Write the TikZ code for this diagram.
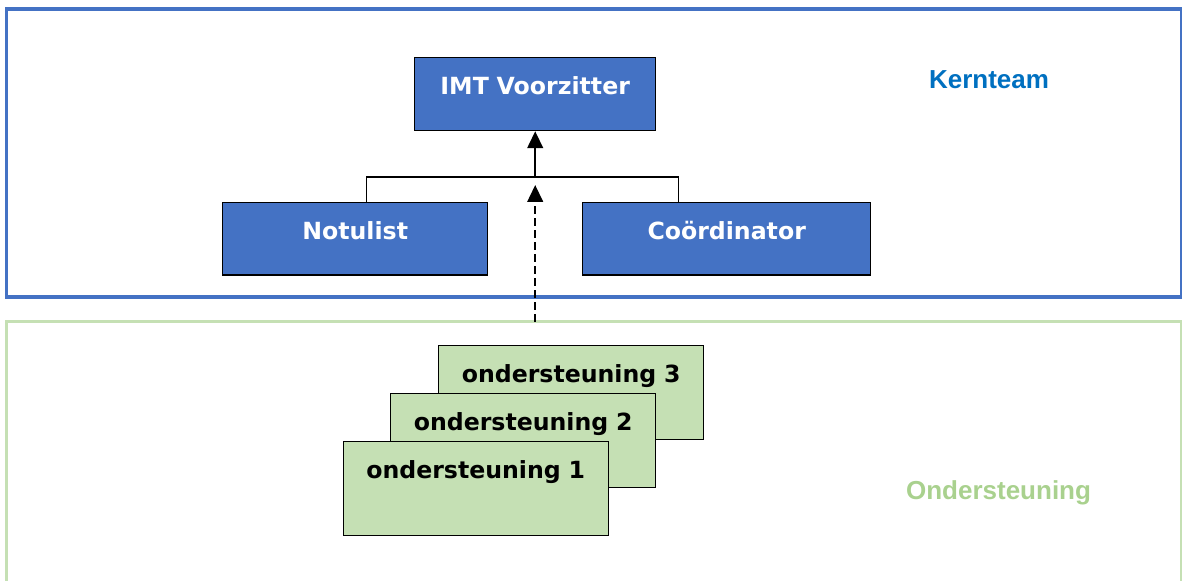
\documentclass[tikz,border=0pt]{standalone}
\usepackage{fontspec}
\usepackage{tikz}
\usetikzlibrary{arrows.meta,calc}
\newfontfamily\boxfont{DejaVu Sans}
\newfontfamily\tagfont{Liberation Sans}
\definecolor{kernblue}{HTML}{4472C4}
\definecolor{kerntext}{HTML}{0070C0}
\definecolor{ondgreen}{HTML}{C5E0B4}
\definecolor{ondtext}{HTML}{A9D18E}
\def\BoxWidth{265}
\def\UnitLen{0.025cm}

\begin{document}
\begin{tikzpicture}[x=\UnitLen,y=-\UnitLen,
		rolebox/.style={draw=black,line width=1pt,inner sep=0pt,anchor=north west,
			align=center,font=\boxfont\bfseries\fontsize{16.8}{20}\selectfont,
			text height=0.93cm},
		kernbox/.style={rolebox,fill=kernblue,text=white,text depth=0.89cm},
		ondbox/.style={rolebox,fill=ondgreen,text=black,text depth=1.42cm,text width=\BoxWidth*\UnitLen},
		teamtag/.style={anchor=base,font=\tagfont\bfseries\fontsize{18.5}{22}\selectfont},
		bracket/.style={draw=black,line width=0.9pt},
		uparrow/.style={draw=black,line width=1.8pt,-{Triangle[length=12pt,width=11pt]}}]
	\useasboundingbox (0,0) rectangle (1182,580);
	% frames
	\draw[kernblue,line width=2.4pt] (6.5,9) rectangle (1181.5,297);
	\draw[ondgreen,line width=2.4pt] (6.5,321.5) rectangle (1181.5,620);
	\node[teamtag,text=kerntext] (kern) at (989,88) {Kernteam};
	\node[teamtag,text=ondtext] (ond) at (998.5,499) {Ondersteuning};
	% kernteam
	\node[kernbox,text width=241*\UnitLen] (imt) at (414,57) {IMT Voorzitter};
	\node[kernbox,text width=265*\UnitLen] (notu) at (222,201.5) {Notulist};
	\node[kernbox,text width=288*\UnitLen] (coord) at (582,201.5) {Coördinator};
	% ondersteuning
	\node[ondbox] (ond3) at (438,345) {ondersteuning 3};
	\node[ondbox] (ond2) at (390,393) {ondersteuning 2};
	\node[ondbox] (ond1) at (342.5,441) {ondersteuning 1};
	% connectors
	\coordinate (split) at (imt.south |- 0,177);
	\coordinate (dashStart) at (imt.south |- 0,321.5);
	\coordinate (dashEnd) at (imt.south |- 0,185);
	\draw[bracket] (notu.north -| 366.5,0) |- (split) -| (coord.north -| 678.5,0);
	\draw[uparrow] (split) -- (imt.south);
	\draw[uparrow,dash pattern=on 5.5pt off 3pt] (dashStart) -- (dashEnd);
\end{tikzpicture}
\end{document}
